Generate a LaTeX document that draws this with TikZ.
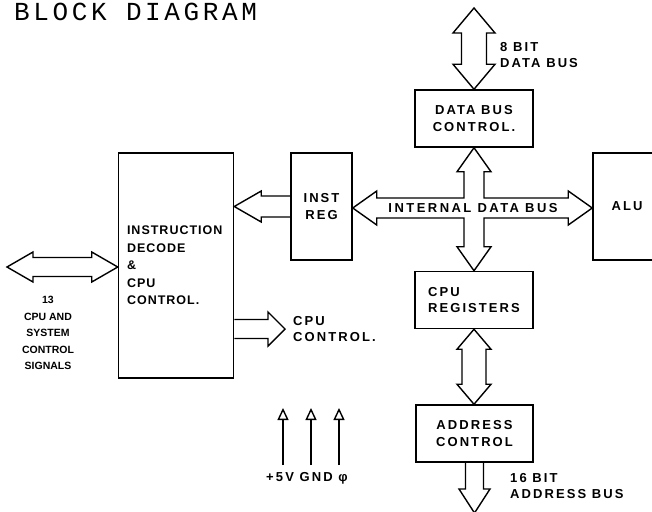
\documentclass[tikz,border=0pt]{standalone}
\usepackage{fontspec}
\setmainfont{Liberation Sans}
\newfontfamily\labfont[LetterSpace=16]{Liberation Sans}
\newfontfamily\decfont[LetterSpace=8]{Liberation Sans}
\newfontfamily\busfont[LetterSpace=19]{Liberation Sans}
\newfontfamily\titlefont[LetterSpace=14]{Liberation Mono}
\usetikzlibrary{arrows.meta,calc}

\tikzset{
  lbl/.style={font=\labfont\bfseries\fontsize{13}{16.5}\selectfont, inner sep=0pt},
  blk/.style={draw, line width=1.5pt, lbl, align=center},
  fat/.style={draw, line width=1.4pt, line join=miter},
  pwr/.style={line width=1.4pt, -{Triangle[open, length=12pt, width=11pt, line width=1.4pt]}},
}

% vertical double bus arrow: #1 top, #2 bottom, #3 shaft half, #4 head half, #5 head length
\newcommand\busV[5]{%
  \draw[fat] let \p1=(#1), \p2=(#2) in
    (\x1,\y1) -- (\x1+#4,\y1-#5) -- (\x1+#3,\y1-#5) -- (\x1+#3,\y2+#5) -- (\x1+#4,\y2+#5)
    -- (\x1,\y2) -- (\x1-#4,\y2+#5) -- (\x1-#3,\y2+#5) -- (\x1-#3,\y1-#5) -- (\x1-#4,\y1-#5) -- cycle;}
% horizontal double bus arrow: #1 left, #2 right
\newcommand\busH[5]{%
  \draw[fat] let \p1=(#1), \p2=(#2) in
    (\x1,\y1) -- (\x1+#5,\y1+#4) -- (\x1+#5,\y1+#3) -- (\x2-#5,\y1+#3) -- (\x2-#5,\y1+#4)
    -- (\x2,\y1) -- (\x2-#5,\y1-#4) -- (\x2-#5,\y1-#3) -- (\x1+#5,\y1-#3) -- (\x1+#5,\y1-#4) -- cycle;}

\begin{document}
\begin{tikzpicture}[x=1pt,y=-1pt]
\useasboundingbox (0,0) rectangle (652,511);
\clip (0,0) rectangle (652,511);

\node[anchor=base west, inner sep=0pt, font=\titlefont\fontsize{26}{26}\selectfont] (title) at (14,21) {BLOCK DIAGRAM};

% blocks
\node[blk, minimum width=118pt, minimum height=57pt] (dbc) at (474,118.5) {DATA BUS\\CONTROL.};
\node[blk, minimum width=61pt, minimum height=107pt] (instreg) at (321.5,206.5) {INST\\REG};
\node[blk, minimum width=115pt, minimum height=225pt, text width=98pt, align=left,
      font=\decfont\bfseries\fontsize{12.5}{17.5}\selectfont] (decode) at (176,265.5)
      {INSTRUCTION\\DECODE\\\&\\CPU\\CONTROL.};
\node[blk, minimum width=68pt, minimum height=107pt] (alu) at (627,206.5) {ALU};
\node[blk, minimum width=118pt, minimum height=57pt, align=left] (cpureg) at (474,300) {CPU\\REGISTERS};
\node[blk, minimum width=117pt, minimum height=57pt] (addr) at (474.5,433.5) {ADDRESS\\CONTROL};

% free ends
\coordinate (dtop) at (474,8);
\coordinate (ctl) at (7,267);
\coordinate (bus) at (474,208);
\coordinate (cpuctl) at (285,329);
\coordinate (abus) at (474,513);

% external data bus
\busV{dtop}{dbc.north}{12.5pt}{21pt}{25pt}
% control signals
\busH{ctl}{decode.west |- ctl}{9.5pt}{15pt}{26pt}
% registers <-> address control
\busV{cpureg.south}{addr.north}{12pt}{17pt}{20pt}

% internal data bus cross
\draw[fat] let \p0=(bus), \p1=(dbc.south), \p2=(cpureg.north), \p3=(instreg.east), \p4=(alu.west) in
  (\x0,\y1) -- (\x0+17pt,\y1-24pt) -- (\x0+10pt,\y1-24pt) -- (\x0+10pt,\y0+10pt)
  -- (\x4-24pt,\y0+10pt) -- (\x4-24pt,\y0+17pt) -- (\x4,\y0) -- (\x4-24pt,\y0-17pt) -- (\x4-24pt,\y0-10pt)
  -- (\x0+10pt,\y0-10pt) -- (\x0+10pt,\y2+24pt) -- (\x0+17pt,\y2+24pt) -- (\x0,\y2)
  -- (\x0-17pt,\y2+24pt) -- (\x0-10pt,\y2+24pt) -- (\x0-10pt,\y0-10pt)
  -- (\x3+24pt,\y0-10pt) -- (\x3+24pt,\y0-17pt) -- (\x3,\y0) -- (\x3+24pt,\y0+17pt) -- (\x3+24pt,\y0+10pt)
  -- (\x0-10pt,\y0+10pt) -- (\x0-10pt,\y1-24pt) -- (\x0-17pt,\y1-24pt) -- cycle;

% inst reg -> decode
\draw[fat] let \p1=(instreg.west), \p2=(decode.east |- instreg.west) in
  (\x1,\y1+10.5pt) -- (\x2+27pt,\y1+10.5pt) -- (\x2+27pt,\y1+15.5pt) -- (\x2,\y1)
  -- (\x2+27pt,\y1-15.5pt) -- (\x2+27pt,\y1-10.5pt) -- (\x1,\y1-10.5pt);
% decode -> cpu control
\draw[fat] let \p1=(cpuctl), \p2=(decode.east |- cpuctl) in
  (\x2,\y1+9.5pt) -- (\x1-17pt,\y1+9.5pt) -- (\x1-17pt,\y1+17pt) -- (\x1,\y1)
  -- (\x1-17pt,\y1-17pt) -- (\x1-17pt,\y1-9.5pt) -- (\x2,\y1-9.5pt);
% address bus out
\draw[fat] let \p1=(addr.south), \p2=(abus) in
  (\x1-9pt,\y1) -- (\x1-9pt,\y2+24pt) -- (\x1-15.5pt,\y2+24pt) -- (\x1,\y2)
  -- (\x1+15.5pt,\y2+24pt) -- (\x1+9pt,\y2+24pt) -- (\x1+9pt,\y1);

% power arrows
\coordinate (p1) at (283,465); \coordinate (p1t) at (283,408);
\coordinate (p2) at (311,465); \coordinate (p2t) at (311,408);
\coordinate (p3) at (339,465); \coordinate (p3t) at (339,408);
\draw[pwr] (p1) -- (p1t);
\draw[pwr] (p2) -- (p2t);
\draw[pwr] (p3) -- (p3t);

% labels
\node[lbl, anchor=west, align=left] (dbl) at (500,55) {8 BIT\\DATA BUS};
\node[inner sep=0pt, font=\busfont\bfseries\fontsize{13}{16}\selectfont] (ibl) at (473,208) {INTERNAL DATA BUS};
\node[inner sep=0pt, align=center, font=\bfseries\fontsize{10.5}{16.5}\selectfont] (ctll) at (48,333)
  {13\\CPU AND\\SYSTEM\\CONTROL\\SIGNALS};
\node[lbl, anchor=west, align=left] (cpucl) at (293,329) {CPU\\CONTROL.};
\node[lbl, anchor=west, align=left] (abl) at (510,486) {16 BIT\\ADDRESS BUS};
\node[lbl, anchor=west] (pwrl) at (266,478) {+\,5V GND φ};
\end{tikzpicture}
\end{document}
